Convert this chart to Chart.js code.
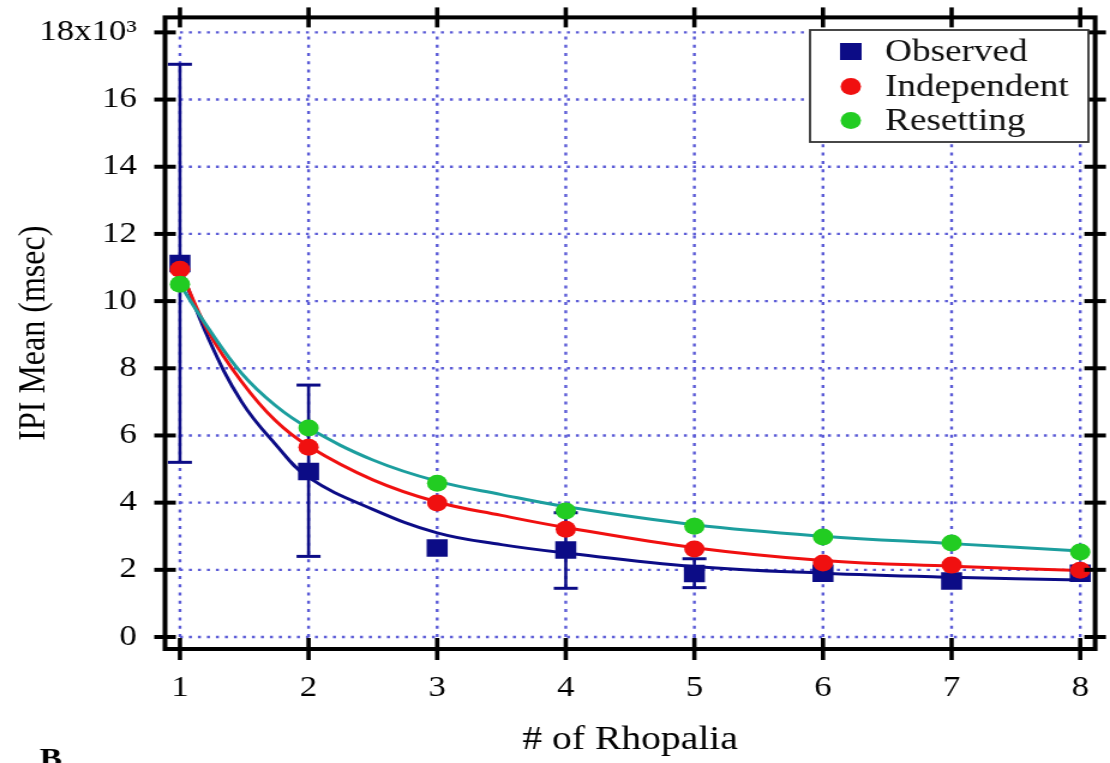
<!DOCTYPE html>
<html lang="en">
<head>
  <meta charset="UTF-8">
  <title>IPI Mean vs # of Rhopalia</title>
  <style>
    html, body { margin: 0; padding: 0; background: #fff; overflow: hidden; }
    /* the original figure is stretched sideways, so the chart is drawn narrow and widened */
    #wrap { width: 925px; height: 763px; transform: scaleX(1.2); transform-origin: 0 0; }
  </style>
</head>
<body>
  <div id="wrap"><canvas id="ipiChart" width="925" height="763"></canvas></div>

  <script src="https://cdn.jsdelivr.net/npm/chart.js"></script>
  <script>
    // values (msec)
    const rhopalia = [1, 2, 3, 4, 5, 6, 7, 8];
    const yTicks = [0, 2000, 4000, 6000, 8000, 10000, 12000, 14000, 16000, 18000];
    const seriesNames = ['Observed', 'Independent', 'Resetting'];

    const observed    = [11120, 4930, 2650, 2590, 1890, 1900, 1670, 1900];
    const errLow      = [5200, 2400, null, 1450, 1470, null, null, null];
    const errHigh     = [17050, 7500, null, 3700, 2330, null, null, null];
    const independent = [10950, 5650, 3990, 3210, 2620, 2200, 2140, 1990];
    const resetting   = [10500, 6220, 4580, 3750, 3300, 2980, 2800, 2530];

    // fitted curves, sampled along the drawn lines
    const fitX           = [1, 1.22, 1.48, 1.74, 2, 2.5, 3, 3.5, 4, 5, 6, 7, 8];
    const observedFit    = [11000, 8900, 7000, 5750, 4750, 3800, 3100, 2750, 2500, 2100, 1900, 1780, 1700];
    const independentFit = [10950, 9100, 7600, 6450, 5680, 4680, 4020, 3620, 3260, 2660, 2280, 2110, 1980];
    const resettingFit   = [10500, 9200, 7850, 6900, 6220, 5270, 4640, 4240, 3880, 3340, 3000, 2780, 2560];

    const NAVY = '#0c0c86';
    const RED = '#f01010';
    const TEAL = '#1c9e9e';
    const GREEN = '#22cc22';
    const SERIF = '"Liberation Serif", "Times New Roman", serif';

    const pts = (xs, ys) => xs.map((v, i) => ({ x: v, y: ys[i] }));

    function line(ctx, x1, y1, x2, y2) {
      ctx.beginPath();
      ctx.moveTo(x1, y1);
      ctx.lineTo(x2, y2);
      ctx.stroke();
    }

    // dotted grid + error bars under the marks, frame/legend on top
    const gridAndErrors = {
      id: 'gridAndErrors',
      beforeDatasetsDraw(chart) {
        const { ctx, scales: { x, y } } = chart;
        const x1 = x.getPixelForValue(rhopalia[0]);
        const x8 = x.getPixelForValue(rhopalia[rhopalia.length - 1]);
        const y0 = y.getPixelForValue(yTicks[0]);
        const y18 = y.getPixelForValue(yTicks[yTicks.length - 1]);
        ctx.save();
        ctx.strokeStyle = '#5a5ad6';
        ctx.lineWidth = 2.4;
        ctx.setLineDash([2.5, 5]);
        yTicks.forEach(v => {
          const py = y.getPixelForValue(v);
          line(ctx, x1, py, x8, py);
        });
        ctx.setLineDash([3, 5.3]);
        rhopalia.forEach(v => {
          const px = x.getPixelForValue(v);
          line(ctx, px, y0, px, y18);
        });
        ctx.setLineDash([]);

        // error bars on Observed
        ctx.strokeStyle = NAVY;
        rhopalia.forEach((v, i) => {
          if (errLow[i] == null) return;
          const px = x.getPixelForValue(v);
          const lo = y.getPixelForValue(errLow[i]);
          const hi = y.getPixelForValue(errHigh[i]);
          ctx.lineWidth = 2.6;
          line(ctx, px, lo, px, hi);
          ctx.lineWidth = 3;
          line(ctx, px - 10, lo, px + 10, lo);
          line(ctx, px - 10, hi, px + 10, hi);
        });
        ctx.restore();
      },
      afterDraw(chart) {
        const { ctx, chartArea: a, scales: { x, y } } = chart;
        ctx.save();
        // thick frame
        ctx.strokeStyle = '#000';
        ctx.lineWidth = 4;
        ctx.strokeRect(a.left, a.top, a.right - a.left, a.bottom - a.top);
        // ticks crossing the frame
        yTicks.forEach(v => {
          const py = y.getPixelForValue(v);
          line(ctx, a.left - 9, py, a.left + 9, py);
          line(ctx, a.right - 9, py, a.right + 9, py);
        });
        ctx.lineWidth = 3.6;
        rhopalia.forEach(v => {
          const px = x.getPixelForValue(v);
          line(ctx, px, a.bottom - 11, px, a.bottom + 11);
          line(ctx, px, a.top - 10, px, a.top + 10);
        });

        // legend box
        const lx = 675, ly = 30, lw = 232, lh = 112;
        ctx.fillStyle = '#fff';
        ctx.fillRect(lx, ly, lw, lh);
        ctx.strokeStyle = '#333';
        ctx.lineWidth = 1.8;
        ctx.strokeRect(lx, ly, lw, lh);
        const rows = [51.5, 86.5, 120.5];
        const colors = [NAVY, RED, GREEN];
        ctx.font = '31px ' + SERIF;
        ctx.textBaseline = 'alphabetic';
        ctx.textAlign = 'left';
        seriesNames.forEach((name, i) => {
          ctx.fillStyle = colors[i];
          if (i === 0) {
            ctx.fillRect(709 - 9, rows[i] - 8.5, 18, 17);
          } else {
            ctx.beginPath();
            ctx.arc(709, rows[i], 8.5, 0, Math.PI * 2);
            ctx.fill();
          }
          ctx.fillStyle = '#111';
          ctx.fillText(name, 737.5, rows[i] + 9);
        });

        // panel letter
        ctx.font = 'bold 28px ' + SERIF;
        ctx.fillStyle = '#000';
        ctx.fillText('B', 33, 767);
        ctx.restore();
      }
    };

    // invisible tick marks push the labels away from the frame without adding layout padding
    const hiddenGrid = len => ({
      display: true, drawOnChartArea: false, drawTicks: true,
      tickLength: len, color: 'rgba(0,0,0,0)'
    });

    const fitLine = (name, ys, color, order) => ({
      label: name + ' fit',
      data: pts(fitX, ys),
      showLine: true, pointRadius: 0, borderColor: color, borderWidth: 3,
      tension: 0.4, order: order
    });

    const ctx = document.getElementById('ipiChart').getContext('2d');
    new Chart(ctx, {
      type: 'scatter',
      data: {
        datasets: [
          fitLine(seriesNames[0], observedFit, NAVY, 6),
          fitLine(seriesNames[1], independentFit, RED, 5),
          fitLine(seriesNames[2], resettingFit, TEAL, 4),
          {
            label: seriesNames[0],
            data: pts(rhopalia, observed),
            pointStyle: 'rect', pointRadius: 12.4, borderWidth: 0,
            backgroundColor: NAVY, borderColor: NAVY, order: 3
          },
          {
            label: seriesNames[1],
            data: pts(rhopalia, independent),
            pointStyle: 'circle', pointRadius: 8.5, borderWidth: 0,
            backgroundColor: RED, borderColor: RED, order: 2
          },
          {
            label: seriesNames[2],
            data: pts(rhopalia, resetting),
            pointStyle: 'circle', pointRadius: 8.5, borderWidth: 0,
            backgroundColor: GREEN, borderColor: GREEN, order: 1
          }
        ]
      },
      options: {
        responsive: false,
        animation: false,
        events: [],
        layout: { padding: { top: 17, right: 8.3, left: 0, bottom: 0 } },
        plugins: {
          legend: { display: false },
          tooltip: { enabled: false }
        },
        scales: {
          x: {
            type: 'linear',
            min: 0.884,
            max: 8.116,
            afterBuildTicks: s => { s.ticks = rhopalia.map(v => ({ value: v })); },
            afterFit: s => { s.height = 114; },
            grid: hiddenGrid(22),
            border: { display: false },
            ticks: {
              color: '#000',
              padding: 0,
              font: { family: SERIF, size: 29 },
              callback: v => String(v)
            },
            title: {
              display: true,
              text: '# of Rhopalia',
              color: '#000',
              font: { family: SERIF, size: 33 },
              padding: { top: 0, bottom: 3 }
            }
          },
          y: {
            type: 'linear',
            min: -357,
            max: 18446,
            afterBuildTicks: s => { s.ticks = yTicks.map(v => ({ value: v })); },
            afterFit: s => { s.width = 137.5; },
            grid: hiddenGrid(23.5),
            border: { display: false },
            ticks: {
              color: '#000',
              padding: 0,
              font: { family: SERIF, size: 29 },
              callback: v => v === 18000 ? '18x10³' : String(v / 1000)
            },
            title: {
              display: true,
              text: 'IPI Mean (msec)',
              color: '#000',
              font: { family: SERIF, size: 32 },
              padding: { top: 9, bottom: 0 }
            }
          }
        }
      },
      plugins: [gridAndErrors]
    });
  </script>
</body>
</html>
